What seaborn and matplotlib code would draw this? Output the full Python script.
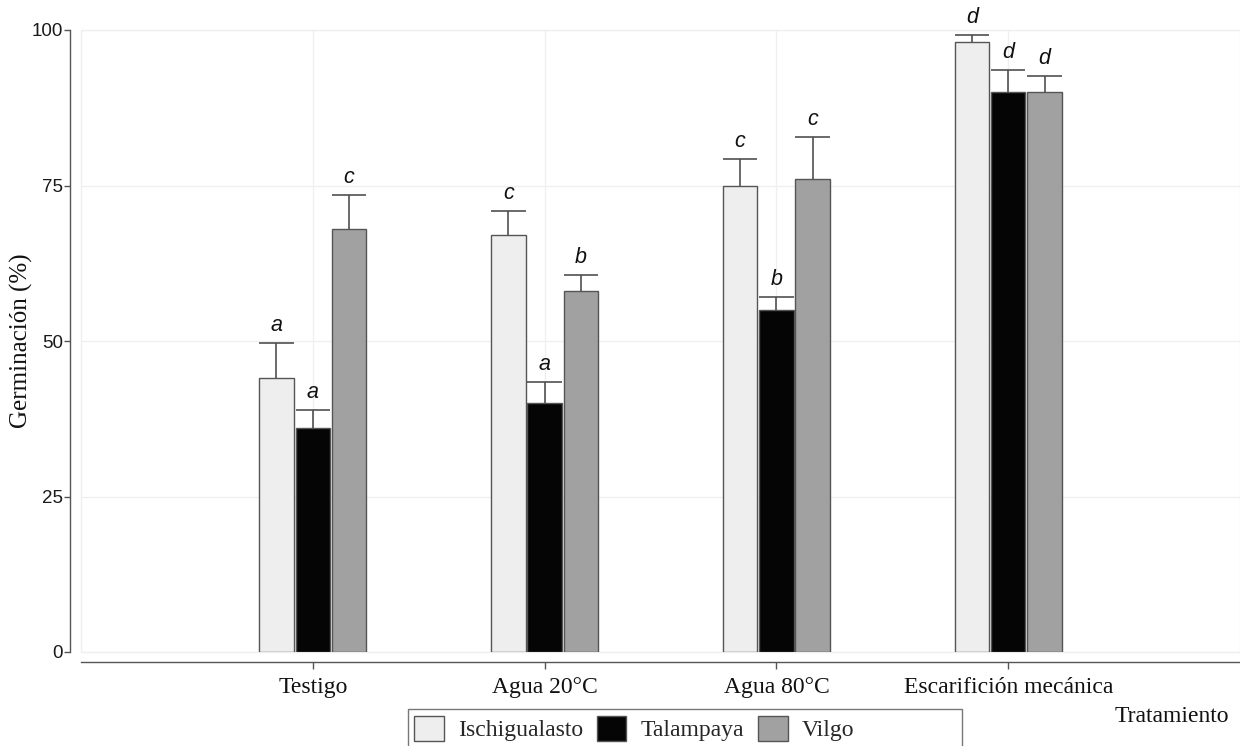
import matplotlib
matplotlib.use("Agg")
import matplotlib.pyplot as plt
from matplotlib.patches import Rectangle, Patch
import seaborn as sns
import pandas as pd

# ---- data ----
treatments = ["Testigo", "Agua 20°C", "Agua 80°C", "Escarifición mecánica"]
sites = ["Ischigualasto", "Talampaya", "Vilgo"]
ischigualasto = [44, 67, 75, 98]
talampaya = [36, 40, 55, 90]
vilgo = [68, 58, 76, 90]
err_isch = [5.7, 3.9, 4.2, 1.2]
err_tal = [2.9, 3.4, 2.1, 3.6]
err_vil = [5.5, 2.6, 6.8, 2.6]
letters_isch = ["a", "c", "c", "d"]
letters_tal = ["a", "a", "b", "d"]
letters_vil = ["c", "b", "c", "d"]
yticks = [0, 25, 50, 75, 100]

values = [ischigualasto, talampaya, vilgo]
errors = [err_isch, err_tal, err_vil]
letters = [letters_isch, letters_tal, letters_vil]
colors = ["#EDEEED", "#050505", "#A0A1A0"]

rows = []
for s, vals in zip(sites, values):
    for t, v in zip(treatments, vals):
        rows.append({"Tratamiento": t, "Germinacion": v, "Sitio": s})
df = pd.DataFrame(rows)

sns.set_theme(style="white")
serif = ["Liberation Serif", "DejaVu Serif"]
sans = ["Liberation Sans", "DejaVu Sans"]

W, H = 1240, 746
fig = plt.figure(figsize=(W / 100, H / 100), dpi=100)
ax = fig.add_axes([81 / W, 1 - 652 / H, (W - 81) / W, (652 - 30) / H])

sns.barplot(data=df, x="Tratamiento", y="Germinacion", hue="Sitio",
            order=treatments, hue_order=sites, palette=colors,
            width=0.47, gap=0.05, edgecolor="#555555", linewidth=1.0,
            errorbar=None, legend=False, ax=ax, zorder=3)

ecol = "#505050"
for cont, errs, lets in zip(ax.containers, errors, letters):
    for bar, e, lt in zip(cont, errs, lets):
        x0 = bar.get_x()
        w = bar.get_width()
        xc = x0 + w / 2
        top = bar.get_height()
        ax.vlines(xc, top, top + e, color=ecol, lw=1.2, zorder=4)
        ax.hlines(top + e, x0, x0 + w, color=ecol, lw=1.2, zorder=4)
        ax.annotate(lt, (xc, top + e), xytext=(0, 5), textcoords="offset points",
                    ha="center", va="bottom", fontsize=15.5, style="italic",
                    family=sans, color="#111111", zorder=5, annotation_clip=False)

ax.set_xlim(-1.0, 4.0)
ax.set_ylim(0, 100)
ax.set_yticks(yticks)
ax.set_yticklabels([str(v) for v in yticks])
ax.set_xticks(range(len(treatments)))
ax.set_xticklabels(treatments)

ax.set_axisbelow(True)
ax.grid(True, color="#EFEFEF", lw=0.9)

for side in ["top", "right"]:
    ax.spines[side].set_visible(False)
ax.spines["left"].set_position(("outward", 8))
ax.spines["bottom"].set_position(("outward", 7))
for side in ["left", "bottom"]:
    ax.spines[side].set_color("#555555")
    ax.spines[side].set_linewidth(1.0)
ax.tick_params(axis="y", direction="out", length=4, width=1, color="#555555", pad=1,
               left=True, labelsize=13.5, labelcolor="#1a1a1a", labelfontfamily="Liberation Sans")
ax.tick_params(axis="x", direction="out", length=5, width=1, color="#555555", pad=6,
               bottom=True, labelsize=17, labelcolor="#111111", labelfontfamily="Liberation Serif")

# faint panel border
ax.add_patch(Rectangle((0, 0), 1, 1, transform=ax.transAxes, fill=False,
                       edgecolor="#EEEEEE", lw=1.0, zorder=0, clip_on=False))

ax.set_xlabel("")
ax.set_ylabel("Germinación (%)", family=serif, fontsize=18, color="#111111")
ax.yaxis.set_label_coords((33 - 81) / (W - 81), 0.5)

fig.text(1172 / W, 1 - 716 / H, "Tratamiento", family=serif, fontsize=17,
         ha="center", va="center", color="#111111")

handles = [Patch(facecolor=c, edgecolor="#555555", lw=1.0) for c in colors]
fig.legend(handles, sites, loc="upper left", bbox_to_anchor=(414 / W, 1 - 716 / H),
           ncol=3, frameon=False, prop={"family": serif, "size": 17},
           handlelength=1.25, handleheight=1.25, handletextpad=0.6,
           columnspacing=0.6, borderaxespad=0, borderpad=0)
fig.add_artist(Rectangle((408 / W, -0.02), (962 - 408) / W, (1 - 709 / H) + 0.02,
                         transform=fig.transFigure, fill=False,
                         edgecolor="#777777", lw=1.0))

fig.savefig("out.png", dpi=100)
